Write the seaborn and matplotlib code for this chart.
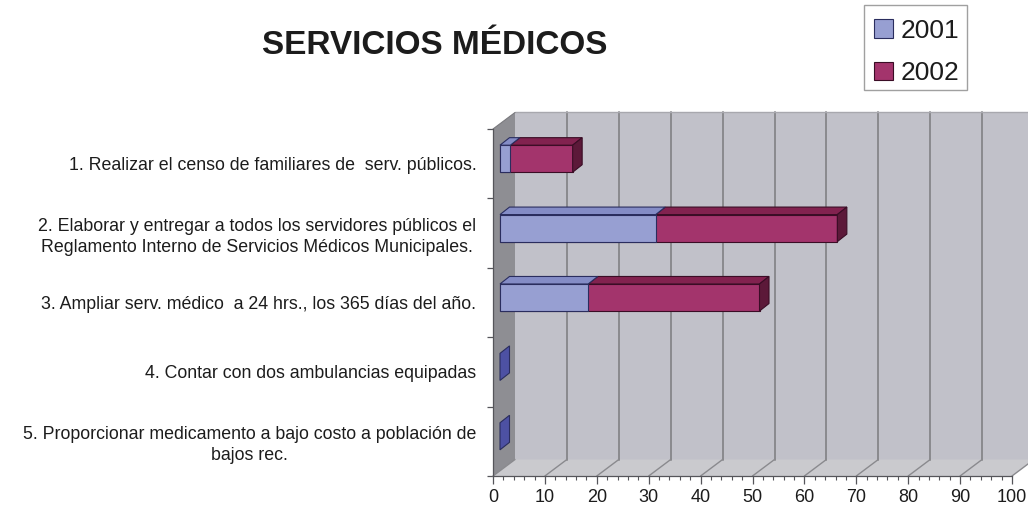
import matplotlib
matplotlib.use("Agg")
import matplotlib.pyplot as plt
from matplotlib.patches import Polygon, Patch, Rectangle
from matplotlib.lines import Line2D
import numpy as np
import pandas as pd
import seaborn as sns

# ---- data -------------------------------------------------------------
categorias = [
    "1. Realizar el censo de familiares de  serv. públicos.",
    "2. Elaborar y entregar a todos los servidores públicos el\nReglamento Interno de Servicios Médicos Municipales.",
    "3. Ampliar serv. médico  a 24 hrs., los 365 días del año.",
    "4. Contar con dos ambulancias equipadas",
    "5. Proporcionar medicamento a bajo costo a población de\nbajos rec.",
]
valores_2001 = [2, 30, 17, 0, 0]
valores_2002 = [12, 35, 33, 0, 0]
series = ["2001", "2002"]
x_ticks = list(range(0, 101, 10))
titulo = "SERVICIOS MÉDICOS"

# ---- style ------------------------------------------------------------
sns.set_theme(style="white")
plt.rcParams["font.family"] = ["Liberation Sans", "DejaVu Sans"]

col_front = {"2001": "#979fd2", "2002": "#a3346c"}
col_top = {"2001": "#848cc6", "2002": "#82224f"}
col_side = {"2001": "#4d51a3", "2002": "#5c1939"}
col_edge = {"2001": "#2a2d5e", "2002": "#3a0d25"}
wall_back = "#c1c1c9"
wall_side = "#8e8e93"
wall_floor = "#cacace"
grid_col = "#8a8a8e"
text_col = "#1c1c1c"

W, H = 1028, 509
fig = plt.figure(figsize=(W / 100, H / 100), dpi=100)
fig.patch.set_facecolor("white")

# front plane of the 3-D box
x0_px, x1_px, top_px, bot_px = 493, 1012, 129, 476
ax = fig.add_axes([x0_px / W, 1 - bot_px / H, (x1_px - x0_px) / W, (bot_px - top_px) / H])
ax.set_facecolor("none")

n = len(categorias)
sx = (x1_px - x0_px) / 100.0          # px per value unit
sy = (bot_px - top_px) / n            # px per category


def px(dx, dy):
    """Pixel offset (right, up) -> data offset on the inverted category axis."""
    return dx / sx, -dy / sy


WDX, WDY = px(22, 16.5)   # depth of the box
FX, FY = px(7, 5)         # front face of the bars inside the box
BX, BY = px(9.5, 7.5)     # depth of the bars
bar_h = 0.39

ytop, ybot = -0.5, n - 0.5

# ---- walls ------------------------------------------------------------
walls = [
    ([(WDX, ytop + WDY), (100 + WDX + 10, ytop + WDY), (100 + WDX + 10, ybot + WDY), (WDX, ybot + WDY)], wall_back),
    ([(0, ytop), (WDX, ytop + WDY), (WDX, ybot + WDY), (0, ybot)], wall_side),
    ([(0, ybot), (WDX, ybot + WDY), (100 + WDX, ybot + WDY), (100, ybot)], wall_floor),
]
for pts, c in walls:
    ax.add_patch(Polygon(pts, closed=True, facecolor=c, edgecolor="none", zorder=0, clip_on=False))

for v in x_ticks:
    if v > 0 and v + WDX <= 102:
        ax.add_line(Line2D([v + WDX, v + WDX], [ytop + WDY, ybot + WDY], color=grid_col, lw=1.4, zorder=1, clip_on=False))
    ax.add_line(Line2D([v, v + WDX], [ybot, ybot + WDY], color=grid_col, lw=1.0, zorder=1, clip_on=False))
ax.add_line(Line2D([WDX, 100 + WDX + 10], [ytop + WDY, ytop + WDY], color="#a8a8ae", lw=1.0, zorder=1, clip_on=False))
ax.add_line(Line2D([0, WDX], [ytop, ytop + WDY], color="#7a7a7e", lw=0.8, zorder=1, clip_on=False))

# ---- bars -------------------------------------------------------------
df = pd.DataFrame({"categoria": categorias, "2001": valores_2001, "2002": valores_2002})
df["total"] = df["2001"] + df["2002"]

sns.barplot(data=df, x="total", y="categoria", orient="h", color=col_front["2002"],
            saturation=1, width=bar_h, edgecolor=col_edge["2002"], linewidth=0.8, ax=ax, zorder=3)
sns.barplot(data=df, x="2001", y="categoria", orient="h", color=col_front["2001"],
            saturation=1, width=bar_h, edgecolor=col_edge["2001"], linewidth=0.8, ax=ax, zorder=4)

tot_bars = list(ax.containers[0])
b01_bars = list(ax.containers[1])

for p in tot_bars + b01_bars:
    p.set_x(p.get_x() + FX)
    p.set_y(p.get_y() + FY)
    p.set_clip_on(False)
    if p.get_width() == 0:
        p.set_visible(False)


def top_face(xa, xb, yt, key, z):
    pts = [(xa, yt), (xb, yt), (xb + BX, yt + BY), (xa + BX, yt + BY)]
    ax.add_patch(Polygon(pts, closed=True, facecolor=col_top[key], edgecolor=col_edge[key],
                         lw=0.8, zorder=z, clip_on=False))


def side_face(xe, yt, yb, key, z):
    pts = [(xe, yt), (xe + BX, yt + BY), (xe + BX, yb + BY), (xe, yb)]
    ax.add_patch(Polygon(pts, closed=True, facecolor=col_side[key], edgecolor=col_edge[key],
                         lw=0.8, zorder=z, clip_on=False))


for pt, p1, v1, v2 in zip(tot_bars, b01_bars, valores_2001, valores_2002):
    yt = pt.get_y()
    yb = yt + pt.get_height()
    xs = pt.get_x()
    if v2 > 0:
        top_face(xs + v1, xs + v1 + v2, yt, "2002", 3)
    if v1 > 0:
        top_face(xs, xs + v1, yt, "2001", 4)
    key = "2002" if v2 > 0 else "2001"
    side_face(xs + v1 + v2, yt, yb, key, 5)

# ---- axes -------------------------------------------------------------
ax.set_xlim(0, 100)
ax.set_ylim(ybot, ytop)
ax.set_xlabel("")
ax.set_ylabel("")
for s in ["top", "right"]:
    ax.spines[s].set_visible(False)
ax.spines["left"].set_color("#55555a")
ax.spines["left"].set_linewidth(0.9)
ax.spines["bottom"].set_color("#55555a")
ax.spines["bottom"].set_linewidth(0.9)
ax.spines["left"].set_zorder(2)

ax.set_xticks(x_ticks)
ax.set_xticklabels([str(v) for v in x_ticks])
ax.set_xticks(np.arange(0, 101, 2), minor=True)
ax.tick_params(axis="x", which="major", direction="out", length=6, width=0.9, color="#55555a",
               labelsize=13, labelcolor=text_col, pad=3.5, bottom=True)
ax.tick_params(axis="x", which="minor", direction="out", length=3, width=0.8, color="#55555a", bottom=True)

ax.set_yticks(range(n))
ax.set_yticklabels(categorias)
ax.set_yticks(np.arange(-0.5, n, 1.0), minor=True)
ax.tick_params(axis="y", which="major", length=0, labelsize=12.8, labelcolor=text_col, pad=12)
ax.tick_params(axis="y", which="minor", direction="out", length=4.5, width=0.9, color="#55555a", left=True)
for t in ax.get_yticklabels():
    t.set_multialignment("center")
    t.set_linespacing(1.3)

# ---- title & legend ---------------------------------------------------
fig.text(435 / W, 1 - 45 / H, titulo, ha="center", va="center", fontsize=24,
         fontweight="bold", color=text_col)

handles = [Patch(facecolor=col_front[s], edgecolor=col_edge[s], lw=0.8, label=s) for s in series]
leg = fig.legend(handles=handles, loc="upper left", bbox_to_anchor=(874 / W, 1 - 19 / H),
                 frameon=False, fontsize=19, handlelength=0.72, handleheight=0.72,
                 handletextpad=0.3, labelspacing=0.69, borderpad=0, borderaxespad=0)
for t in leg.get_texts():
    t.set_color(text_col)
fig.add_artist(Rectangle((864 / W, 1 - 90 / H), 103 / W, 85 / H, transform=fig.transFigure,
                         fill=False, edgecolor="#a0a0a0", linewidth=1.0))

fig.savefig("out.png", dpi=100, facecolor="white")
